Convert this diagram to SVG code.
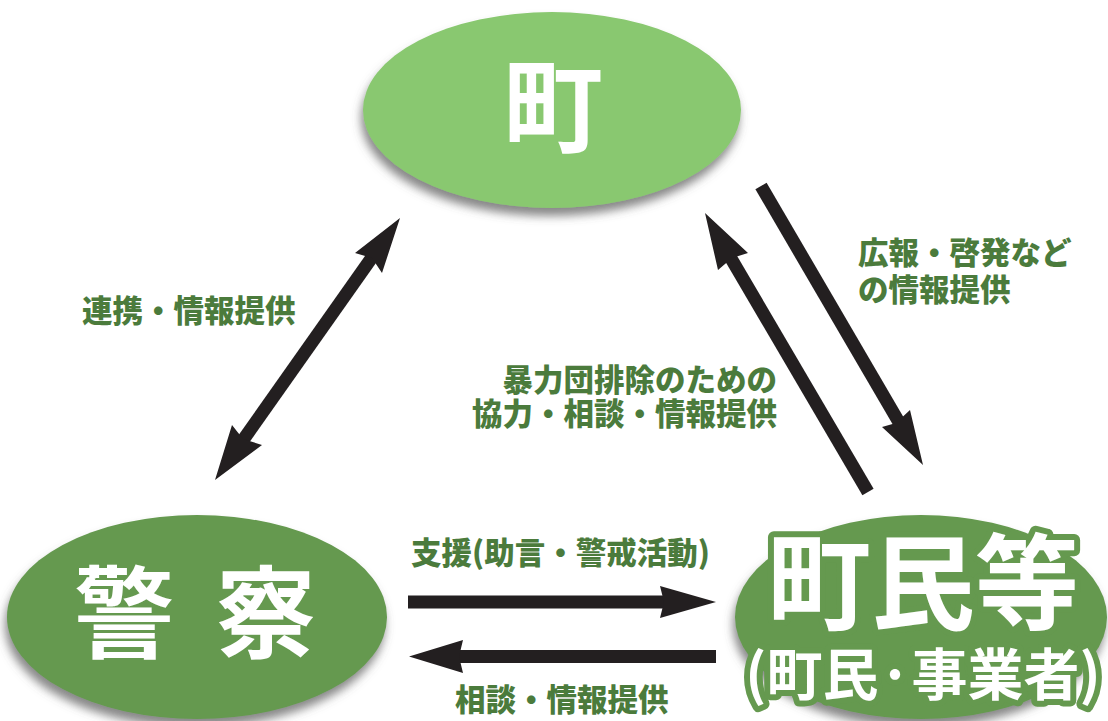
<svg xmlns="http://www.w3.org/2000/svg" width="1108" height="721" viewBox="0 0 1108 721">
<defs>
<filter id="sh" x="-10%" y="-10%" width="120%" height="130%">
<feGaussianBlur in="SourceAlpha" stdDeviation="5"/>
<feOffset dx="-2" dy="8" result="b"/>
<feFlood flood-color="#555" flood-opacity="0.7"/>
<feComposite in2="b" operator="in"/>
<feMerge><feMergeNode/><feMergeNode in="SourceGraphic"/></feMerge>
</filter>
<style>
.lbl{font-family:"Noto Sans CJK JP","Noto Sans",sans-serif;font-weight:900;font-size:30.5px;fill:#4b7b3c}
.big{font-family:"Noto Sans CJK JP","Noto Sans",sans-serif;font-weight:700;fill:#fff}
.out{stroke:#65994f;stroke-width:12;stroke-linejoin:round;paint-order:stroke}
.shaft{stroke:#231f20;stroke-width:13;fill:none}
.head{fill:#231f20}
</style>
</defs>
<rect width="1108" height="721" fill="#fff"/>
<g id="node-town">
<ellipse cx="552" cy="110" rx="189" ry="98" fill="#89c870" filter="url(#sh)"/>
<text class="big" x="553" y="144" font-size="100" text-anchor="middle">町</text>
</g>
<g id="node-police">
<ellipse cx="197" cy="617" rx="190" ry="102" fill="#65994f" filter="url(#sh)"/>
<text class="big" x="74 174 216" y="650" font-size="100">警 察</text>
</g>
<g id="node-residents">
<ellipse cx="921" cy="617" rx="186" ry="102" fill="#65994f" filter="url(#sh)"/>
<text class="big out" x="923" y="622" font-size="104" text-anchor="middle">町民等</text>
<text class="big out" x="923" y="695" font-size="56" text-anchor="middle">(町民·事業者)</text>
</g>
<g id="connectors">
<line class="shaft" x1="236" y1="450" x2="380" y2="246"/>
<polygon class="head" points="400,218 382,273 372,258 355,253"/>
<polygon class="head" points="215,480 232,425 243,439 262,445"/>
<line class="shaft" x1="868" y1="492" x2="729" y2="255"/>
<polygon class="head" points="705,213 748,253 732,258 718,270"/>
<line class="shaft" x1="761" y1="186" x2="900" y2="424"/>
<polygon class="head" points="923,465 882,427 896,423 910,410"/>
<line class="shaft" x1="408" y1="602" x2="666" y2="602"/>
<polygon class="head" points="716,602 660,586 664,602 660,618"/>
<line class="shaft" x1="716" y1="656.5" x2="458" y2="656.5"/>
<polygon class="head" points="409,656.5 463,640 459,656.5 463,673"/>
</g>
<g id="labels">
<text class="lbl" x="82" y="322">連携・情報提供</text>
<text class="lbl" x="858" y="264">広報・啓発など</text>
<text class="lbl" x="858" y="301">の情報提供</text>
<text class="lbl" x="777" y="391" text-anchor="end" font-size="31">暴力団排除のための</text>
<text class="lbl" x="777" y="425" text-anchor="end" font-size="31">協力・相談・情報提供</text>
<text class="lbl" x="411" y="564">支援(助言・警戒活動)</text>
<text class="lbl" x="455" y="711">相談・情報提供</text>
</g>
</svg>
